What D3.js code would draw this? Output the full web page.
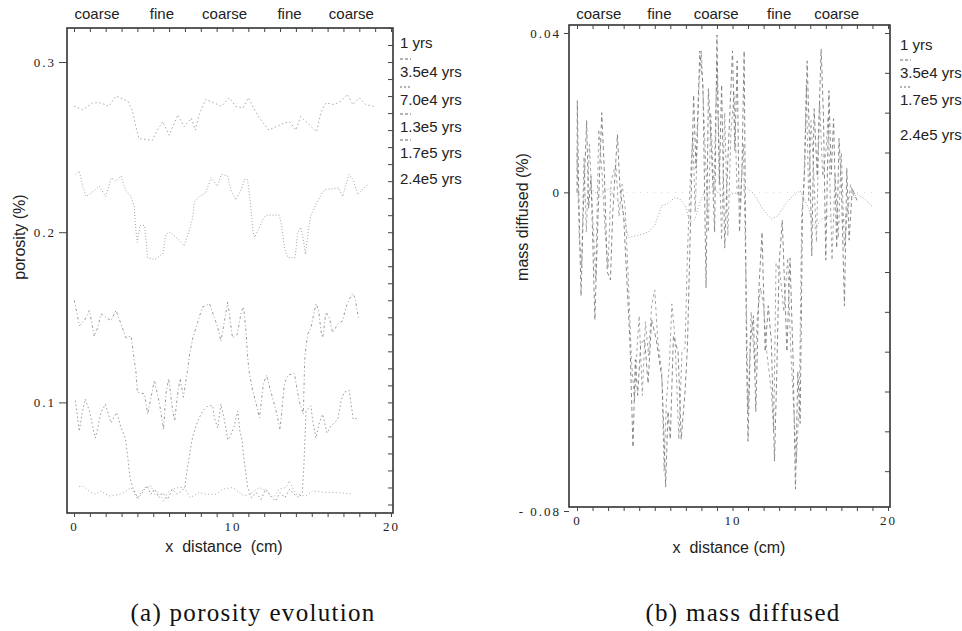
<!DOCTYPE html>
<html>
<head>
<meta charset="utf-8">
<script src="https://cdn.jsdelivr.net/npm/d3@7"></script>
<style>
body { margin: 0; background: #fff; }
svg { display: block; }
</style>
</head>
<body>
<svg id="chart" width="962" height="631"></svg>
<script>
// ---- data ----
var regionLabels = ["coarse", "fine", "coarse", "fine", "coarse"];
var regionCentersA = [1.45, 5.55, 9.5, 13.6, 17.5];
var regionCentersB = [1.4, 5.3, 8.95, 13.0, 16.7];

var porosityLegend = ["1 yrs", "3.5e4 yrs", "7.0e4 yrs", "1.3e5 yrs", "1.7e5 yrs", "2.4e5 yrs"];
var massLegend = ["1 yrs", "3.5e4 yrs", "1.7e5 yrs", "2.4e5 yrs"];

var porosityTicks = [0.1, 0.2, 0.3];
var massTicks = [-0.08, 0, 0.04];
var massTickText = ["- 0.08", "0", "0.04"];
var distanceTicks = [0, 10, 20];

// porosity (%) vs x distance (cm)
var por_1yr = [[0,0.274],[0.55,0.272],[1.18,0.276],[1.7,0.276],[2.2,0.274],[2.65,0.280],[3.4,0.277],[3.7,0.271],[3.9,0.262],[4.1,0.255],[4.95,0.254],[5.2,0.259],[5.6,0.265],[6.0,0.257],[6.55,0.269],[6.95,0.262],[7.4,0.267],[7.65,0.260],[7.9,0.269],[8.3,0.278],[8.85,0.276],[9.3,0.274],[9.8,0.279],[10.2,0.274],[10.65,0.273],[11.0,0.279],[11.45,0.271],[11.7,0.267],[12.3,0.260],[13.2,0.264],[13.6,0.265],[14.0,0.260],[14.3,0.268],[14.75,0.264],[15.3,0.259],[15.6,0.271],[15.9,0.276],[16.4,0.275],[16.85,0.277],[17.25,0.281],[17.6,0.275],[18.0,0.279],[18.4,0.275],[18.9,0.274]];

var por_35e4 = [[0.1,0.234],[0.33,0.236],[0.55,0.227],[0.76,0.221],[1.07,0.223],[1.6,0.227],[2.0,0.221],[2.35,0.232],[2.65,0.230],[2.97,0.233],[3.24,0.225],[3.6,0.221],[3.8,0.215],[3.9,0.201],[4.0,0.194],[4.15,0.204],[4.45,0.204],[4.65,0.185],[5.07,0.184],[5.6,0.187],[5.8,0.199],[6.1,0.200],[6.65,0.195],[6.95,0.192],[7.3,0.202],[7.45,0.207],[7.5,0.210],[7.6,0.218],[7.9,0.221],[8.3,0.223],[8.65,0.232],[9.05,0.227],[9.3,0.234],[9.7,0.233],[9.9,0.225],[10.2,0.219],[10.55,0.225],[10.75,0.231],[10.95,0.231],[11.1,0.220],[11.2,0.210],[11.3,0.200],[11.4,0.197],[11.7,0.203],[11.9,0.207],[12.1,0.210],[12.95,0.210],[13.1,0.204],[13.3,0.190],[13.5,0.185],[13.95,0.185],[14.1,0.199],[14.3,0.203],[14.45,0.197],[14.6,0.187],[14.8,0.202],[14.95,0.210],[15.3,0.217],[15.6,0.222],[15.8,0.225],[16.7,0.226],[16.95,0.221],[17.35,0.234],[17.6,0.231],[17.9,0.222],[18.1,0.224],[18.5,0.228]];

var por_70e4 = [[0.02,0.160],[0.17,0.153],[0.34,0.145],[0.65,0.148],[0.97,0.154],[1.28,0.139],[1.5,0.144],[1.7,0.152],[2.33,0.148],[2.65,0.154],[2.97,0.146],[3.28,0.138],[3.6,0.139],[3.8,0.125],[3.9,0.119],[4.0,0.106],[4.45,0.105],[4.65,0.093],[4.9,0.105],[5.07,0.113],[5.4,0.099],[5.65,0.084],[5.8,0.105],[5.97,0.114],[6.2,0.097],[6.35,0.089],[6.55,0.106],[6.7,0.114],[6.9,0.103],[7.05,0.112],[7.2,0.121],[7.27,0.127],[7.5,0.138],[7.8,0.147],[8.1,0.156],[8.55,0.158],[8.85,0.150],[9.07,0.144],[9.27,0.136],[9.5,0.148],[9.7,0.159],[10.0,0.138],[10.3,0.140],[10.55,0.153],[10.7,0.156],[10.85,0.142],[10.95,0.127],[11.05,0.118],[11.27,0.107],[11.5,0.099],[11.7,0.091],[11.95,0.111],[12.15,0.116],[12.4,0.107],[12.75,0.095],[13.0,0.084],[13.27,0.111],[13.5,0.116],[13.9,0.117],[14.2,0.101],[14.47,0.093],[14.55,0.124],[14.6,0.130],[14.74,0.140],[14.95,0.144],[15.06,0.149],[15.27,0.158],[15.44,0.154],[15.58,0.142],[15.69,0.138],[15.9,0.153],[16.1,0.150],[16.32,0.141],[16.64,0.146],[16.95,0.148],[17.16,0.156],[17.33,0.160],[17.58,0.164],[17.75,0.161],[17.84,0.155],[17.96,0.149]];

var por_13e5 = [[0.08,0.101],[0.23,0.091],[0.33,0.083],[0.5,0.093],[0.71,0.102],[0.97,0.095],[1.34,0.079],[1.5,0.085],[1.7,0.094],[1.98,0.099],[2.33,0.088],[2.69,0.094],[2.97,0.085],[3.24,0.079],[3.39,0.068],[3.53,0.056],[3.7,0.050],[4.0,0.044],[4.3,0.048],[4.6,0.051],[4.85,0.046],[5.1,0.049],[5.35,0.044],[5.6,0.047],[5.9,0.043],[6.2,0.049],[6.5,0.046],[6.8,0.048],[7.0,0.050],[7.07,0.056],[7.27,0.068],[7.49,0.080],[7.8,0.089],[8.12,0.095],[8.44,0.098],[8.75,0.098],[8.85,0.091],[9.07,0.085],[9.27,0.099],[9.48,0.090],[9.7,0.078],[9.9,0.081],[10.11,0.086],[10.33,0.095],[10.47,0.083],[10.6,0.078],[10.68,0.070],[10.85,0.058],[10.96,0.050],[11.2,0.044],[11.5,0.047],[11.8,0.043],[12.1,0.049],[12.4,0.045],[12.7,0.042],[13.0,0.047],[13.3,0.044],[13.6,0.049],[13.9,0.046],[14.2,0.044],[14.4,0.047],[14.5,0.062],[14.64,0.095],[14.95,0.098],[15.06,0.089],[15.27,0.079],[15.48,0.088],[15.69,0.093],[15.96,0.082],[16.21,0.086],[16.64,0.090],[16.85,0.101],[17.05,0.106],[17.37,0.107],[17.48,0.099],[17.62,0.090],[17.96,0.091]];

var por_17e5 = [[0.33,0.0506],[0.6,0.0506],[1.07,0.047],[1.39,0.046],[1.7,0.048],[2.02,0.046],[2.23,0.045],[2.86,0.046],[3.17,0.047],[3.6,0.050],[4.02,0.043],[4.54,0.050],[4.86,0.051],[5.07,0.046],[5.38,0.047],[5.66,0.042],[5.91,0.047],[6.23,0.049],[6.64,0.050],[6.96,0.050],[7.32,0.044],[7.9,0.047],[8.33,0.046],[8.96,0.046],[9.38,0.049],[10.01,0.050],[10.74,0.045],[11.06,0.046],[11.69,0.050],[12.11,0.048],[12.54,0.044],[12.95,0.049],[13.38,0.050],[13.58,0.054],[14.0,0.046],[14.64,0.045],[15.06,0.048],[15.9,0.047],[16.32,0.047],[16.74,0.047],[17.58,0.046]];

// mass diffused (%) vs x distance (cm)
var mass_1yr = [[0,0],[19,0]];

var mass_35e4 = [[0,0.0],[0.5,-0.002],[1.0,0.0005],[1.5,-0.001],[2.0,0.001],[2.5,-0.0015],[2.9,-0.004],[3.3,-0.0113],[3.94,-0.0108],[4.59,-0.010],[5.0,-0.0083],[5.45,-0.0033],[5.77,-0.003],[6.3,-0.0013],[6.62,-0.0017],[6.95,-0.0033],[7.27,-0.0075],[7.59,-0.0067],[7.9,-0.0025],[8.23,0.0004],[8.66,0.0013],[9.09,0.0],[9.5,-0.0017],[9.95,-0.0004],[10.5,0],[10.9,0.0013],[11.45,-0.0008],[11.9,-0.004],[12.5,-0.0067],[12.95,-0.0058],[13.4,-0.003],[13.9,-0.0008],[14.35,0.0004],[14.88,-0.004],[15.3,-0.009],[15.75,-0.0067],[16.2,-0.0058],[16.6,-0.0075],[17.2,-0.007],[17.55,-0.0025],[18.0,-0.0004],[18.5,-0.0017],[19.05,-0.0038]];

var mass_17e5 = [[0.0,0.01],[0.15,-0.012],[0.3,-0.019],[0.45,0.009],[0.6,-0.01],[0.8,0.012],[1.0,-0.005],[1.2,-0.022],[1.4,0.0158],[1.6,0.0055],[1.8,-0.0095],[2.0,-0.019],[2.2,0.003],[2.5,0.007],[2.7,-0.006],[2.9,0.002],[3.1,-0.004],[3.3,-0.022],[3.5,-0.042],[3.7,-0.0525],[3.85,-0.04],[4.0,-0.031],[4.2,-0.051],[4.4,-0.0325],[4.6,-0.041],[4.8,-0.0285],[5.0,-0.0245],[5.2,-0.0375],[5.45,-0.045],[5.6,-0.07],[5.75,-0.0525],[5.95,-0.0425],[6.1,-0.028],[6.3,-0.0365],[6.55,-0.062],[6.75,-0.04],[6.95,-0.039],[7.1,-0.0155],[7.25,0.0],[7.45,0.015],[7.6,-0.005],[7.85,0.027],[8.0,0.0355],[8.2,0.015],[8.45,-0.01],[8.6,0.02],[8.8,0.0],[9.0,0.033],[9.1,0.015],[9.3,-0.012],[9.5,0.02],[9.7,-0.011],[9.9,0.015],[10.1,0.025],[10.3,0.0],[10.5,-0.0025],[10.7,0.012],[10.85,-0.0175],[11.0,-0.055],[11.2,-0.03],[11.45,-0.045],[11.6,-0.031],[11.8,-0.024],[12.0,-0.0285],[12.2,-0.04],[12.5,-0.05],[12.65,-0.06],[12.8,-0.0178],[13.05,-0.02],[13.3,-0.03],[13.55,-0.0165],[13.75,-0.04],[13.95,-0.055],[14.1,-0.068],[14.3,-0.0525],[14.45,-0.0055],[14.6,0.002],[14.75,0.027],[14.9,-0.0025],[15.05,0.018],[15.2,0.007],[15.4,-0.0125],[15.6,0.023],[15.8,0.004],[16.0,0.01],[16.15,0.019],[16.4,-0.017],[16.6,0.0045],[16.8,-0.0115],[17.0,0.01],[17.2,-0.014],[17.4,-0.004],[17.6,0.002],[17.8,-0.001]];

var mass_24e5 = [[0.0,0.0],[0.02,0.023],[0.1,0.002],[0.26,-0.026],[0.4,-0.005],[0.62,0.018],[0.75,-0.004],[0.9,0.004],[1.15,-0.032],[1.3,-0.012],[1.59,0.020],[1.75,0.006],[1.95,-0.02],[2.15,-0.022],[2.3,-0.005],[2.6,0.0145],[2.75,0.002],[3.0,-0.006],[3.4,-0.037],[3.6,-0.064],[3.75,-0.042],[3.9,-0.051],[4.1,-0.038],[4.35,-0.037],[4.57,-0.048],[4.8,-0.032],[5.1,-0.037],[5.47,-0.047],[5.7,-0.074],[5.85,-0.055],[6.0,-0.062],[6.2,-0.036],[6.5,-0.040],[6.7,-0.062],[6.95,-0.05],[7.1,-0.039],[7.3,-0.0075],[7.5,0.0245],[7.65,0.006],[7.9,0.0355],[8.1,0.027],[8.3,-0.024],[8.45,0.026],[8.65,0.0105],[8.85,-0.01],[9.0,0.0395],[9.15,0.002],[9.3,0.027],[9.5,-0.014],[9.7,0.008],[10.0,0.0355],[10.15,0.0105],[10.3,0.033],[10.45,-0.01],[10.6,0.0045],[10.75,0.0355],[10.9,-0.04],[11.0,-0.0625],[11.15,-0.0375],[11.35,-0.031],[11.5,-0.055],[11.7,-0.024],[11.9,-0.01],[12.1,-0.04],[12.3,-0.0285],[12.5,-0.0375],[12.7,-0.0675],[12.85,-0.045],[13.0,-0.0178],[13.2,-0.007],[13.5,-0.04],[13.7,-0.0165],[13.9,-0.0425],[14.05,-0.0745],[14.2,-0.045],[14.35,-0.058],[14.5,-0.005],[14.65,0.007],[14.8,0.033],[14.95,0.013],[15.1,-0.016],[15.25,0.021],[15.45,0.004],[15.7,0.036],[15.85,0.019],[16.0,-0.017],[16.2,0.0255],[16.35,0.0045],[16.5,0.0185],[16.7,-0.014],[16.85,0.0135],[17.0,0.002],[17.2,-0.0285],[17.35,0.006],[17.5,-0.012],[17.7,0.001],[18.0,-0.002]];

// ---- drawing ----
var svg = d3.select("#chart");
var serif = '"Liberation Serif", "DejaVu Serif", serif';
var sans = '"Liberation Sans", Arial, sans-serif';

function styleAxis(g) {
    g.select(".domain").remove();
    g.selectAll("line").attr("stroke", "#444").attr("stroke-width", 1);
    g.selectAll("text").attr("fill", "#222").style("font-family", serif)
        .style("font-size", "13px").style("letter-spacing", "2px");
}

function drawPanel(p) {
    var g = svg.append("g");
    var x = d3.scaleLinear().domain([0, 20]).range(p.xRange);
    var y = d3.scaleLinear().domain(p.yDomain).range(p.yRange);
    var fx0 = p.frame[0], fy0 = p.frame[1], fx1 = p.frame[2], fy1 = p.frame[3];

    var line = d3.line().x(function(d){ return x(d[0]); }).y(function(d){ return y(d[1]); });

    p.series.forEach(function(s){
        g.append("path")
            .datum(s.data)
            .attr("d", line)
            .attr("fill", "none")
            .attr("stroke", s.color)
            .attr("stroke-width", s.width || 1)
            .attr("stroke-dasharray", s.dash);
    });

    // frame
    g.append("rect")
        .attr("x", fx0).attr("y", fy0)
        .attr("width", fx1 - fx0).attr("height", fy1 - fy0)
        .attr("fill", "none").attr("stroke", "#333").attr("stroke-width", 1.6);

    // bottom ticks (outward) + labels
    g.append("g").attr("transform", "translate(0," + fy1 + ")")
        .call(d3.axisBottom(x).tickValues(d3.range(0, 21)).tickSize(4).tickFormat(""))
        .call(styleAxis);
    var bl = g.append("g").attr("transform", "translate(0," + fy1 + ")")
        .call(d3.axisBottom(x).tickValues(distanceTicks).tickSize(0).tickFormat(d3.format("d")))
        .call(styleAxis);
    bl.selectAll("text").attr("dy", null).attr("y", p.xLabelOffset);

    // top ticks (inward)
    g.append("g").attr("transform", "translate(0," + fy0 + ")")
        .call(d3.axisTop(x).tickValues(d3.range(0, 21)).tickSize(-4).tickFormat(""))
        .call(styleAxis);

    // left ticks with labels (outward)
    g.append("g").attr("transform", "translate(" + fx0 + ",0)")
        .call(d3.axisLeft(y).tickValues(p.yTicks).tickSize(p.leftTick).tickPadding(3)
            .tickFormat(function(d, i){ return p.yTickText[i]; }))
        .call(styleAxis);

    // right ticks (inward)
    g.append("g").attr("transform", "translate(" + fx1 + ",0)")
        .call(d3.axisRight(y).tickValues(p.rightTicks).tickSize(-5).tickFormat(""))
        .call(styleAxis);

    // region labels on top
    g.selectAll(".region").data(regionLabels).enter().append("text")
        .attr("x", function(d, i){ return x(p.regionCenters[i]); })
        .attr("y", 19)
        .attr("text-anchor", "middle")
        .style("font-family", sans).style("font-size", "15px").attr("fill", "#222")
        .text(function(d){ return d; });

    // legend
    p.legend.forEach(function(lab, i){
        g.append("text").attr("x", p.legendX).attr("y", p.legendY[i])
            .style("font-family", sans).style("font-size", "15px").attr("fill", "#222")
            .text(lab);
    });
    p.legendSamples.forEach(function(si){
        var ty = p.legendY[si] - 18;
        g.append("line")
            .attr("x1", p.legendX).attr("x2", p.legendX + 11)
            .attr("y1", ty).attr("y2", ty)
            .attr("stroke", "#666").attr("stroke-width", 1)
            .attr("stroke-dasharray", p.series[si].sample);
    });

    // axis titles
    g.append("text")
        .attr("transform", "translate(" + p.yTitlePos[0] + "," + p.yTitlePos[1] + ") rotate(-90)")
        .attr("text-anchor", "middle")
        .style("font-family", sans).style("font-size", "16px").attr("fill", "#222")
        .text(p.yTitle);
    g.append("text")
        .attr("x", p.xTitlePos[0]).attr("y", p.xTitlePos[1])
        .attr("text-anchor", "middle")
        .style("font-family", sans).style("font-size", "16px").style("white-space", "pre")
        .attr("fill", "#222")
        .text(p.xTitle);

    // caption
    g.append("text")
        .attr("x", p.captionPos[0]).attr("y", p.captionPos[1])
        .attr("text-anchor", "middle")
        .style("font-family", serif).style("font-size", "25px").style("letter-spacing", "1.3px")
        .attr("fill", "#111")
        .text(p.caption);
}

drawPanel({
    frame: [67, 28, 393, 513],
    xRange: [74, 391],
    yDomain: [0.035, 0.32],
    yRange: [513, 28],
    yTicks: porosityTicks,
    yTickText: ["0.1", "0.2", "0.3"],
    rightTicks: d3.range(4, 33).map(function(k){ return k / 100; }),
    leftTick: 8,
    xLabelOffset: 18,
    regionCenters: regionCentersA,
    legend: porosityLegend,
    legendX: 400,
    legendY: [48, 77, 105, 132, 158, 184],
    legendSamples: [1, 2, 3, 4],
    yTitle: "porosity (%)",
    yTitlePos: [25, 237],
    xTitle: "x  distance  (cm)",
    xTitlePos: [224, 552],
    caption: "(a) porosity evolution",
    captionPos: [253, 621],
    series: [
        {data: por_1yr, color: "#a8a8a8", dash: "1.5,2.5", sample: "3,2"},
        {data: por_35e4, color: "#a4a4a4", dash: "1,2", sample: "3,2"},
        {data: por_70e4, color: "#9a9a9a", dash: "2.5,2.5,1,2.5", sample: "2,2"},
        {data: por_13e5, color: "#999", dash: "1.5,2.5", sample: "3,2"},
        {data: por_17e5, color: "#a8a8a8", dash: "1,2.5", sample: "3,2"}
    ]
});

drawPanel({
    frame: [569, 25, 890, 507],
    xRange: [577, 888],
    yDomain: [-0.08, 0.04],
    yRange: [511, 33],
    yTicks: massTicks,
    yTickText: massTickText,
    rightTicks: d3.range(-7, 5).map(function(k){ return k / 100; }),
    leftTick: 5,
    xLabelOffset: 18,
    regionCenters: regionCentersB,
    legend: massLegend,
    legendX: 900,
    legendY: [50, 78, 105, 140],
    legendSamples: [1, 2],
    yTitle: "mass diffused (%)",
    yTitlePos: [528, 217],
    xTitle: "x  distance (cm)",
    xTitlePos: [729, 553],
    caption: "(b) mass diffused",
    captionPos: [743, 621],
    series: [
        {data: mass_1yr, color: "#d4d4d4", dash: "1,6", sample: "3,2"},
        {data: mass_35e4, color: "#a4a4a4", dash: "1,2", sample: "3,2"},
        {data: mass_17e5, color: "#9c9c9c", dash: "3,3", width: 0.9, sample: "2,2"},
        {data: mass_24e5, color: "#7c7c7c", dash: "4,3", width: 0.9, sample: "3,2"}
    ]
});
</script>
</body>
</html>
